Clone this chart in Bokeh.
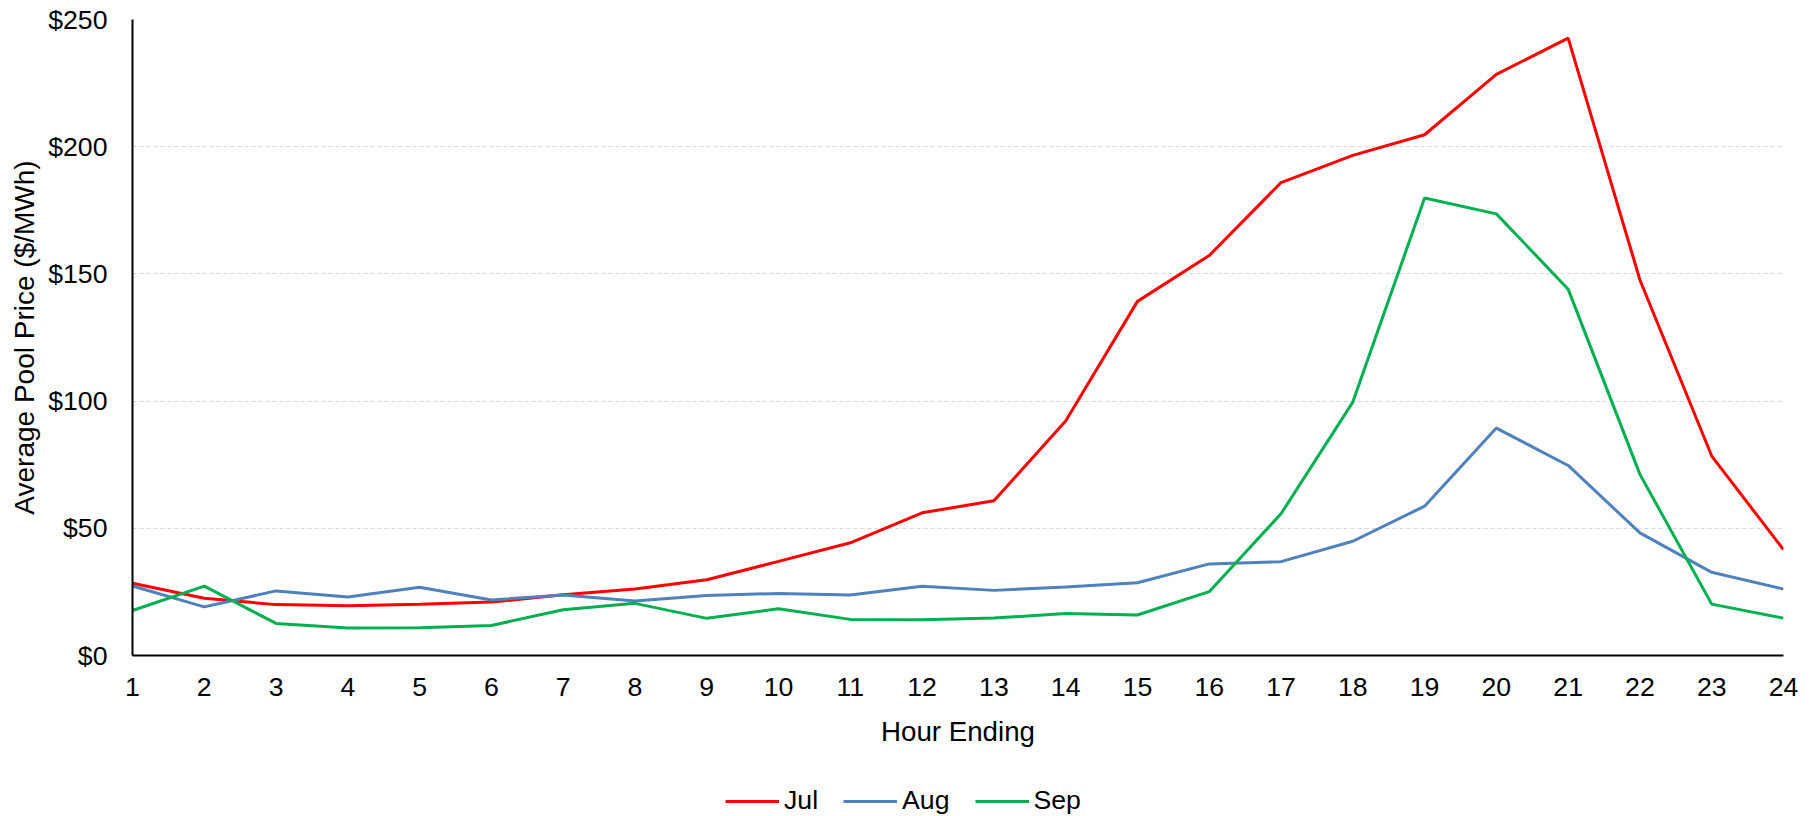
from bokeh.plotting import figure
from bokeh.layouts import column
from bokeh.models import (ColumnDataSource, FixedTicker, NumeralTickFormatter,
                          Legend, LegendItem, Range1d)
from bokeh.embed import file_html
from bokeh.resources import INLINE

hours = list(range(1, 25))
jul = [28.4, 22.5, 20.0, 19.6, 20.1, 21.0, 23.9, 26.1, 29.8, 37.0, 44.3, 56.1,
       60.8, 92.2, 139.2, 157.2, 185.9, 196.6, 204.7, 228.4, 242.7, 147.6, 78.4, 41.6]
aug = [27.3, 19.1, 25.4, 23.0, 26.8, 21.8, 23.8, 21.4, 23.6, 24.4, 23.8, 27.2,
       25.6, 26.9, 28.6, 36.0, 36.9, 44.9, 58.7, 89.4, 74.7, 48.2, 32.7, 26.1]
sep = [17.7, 27.3, 12.6, 10.8, 10.9, 11.8, 18.0, 20.5, 14.6, 18.4, 14.2, 14.1,
       14.7, 16.5, 15.9, 25.1, 55.7, 99.6, 179.8, 173.6, 144.0, 71.2, 20.2, 14.7]
series_names = ["Jul", "Aug", "Sep"]
series_cols = ["jul", "aug", "sep"]
series_colors = ["#FF0000", "#4F81BD", "#00B050"]
y_ticks = [0, 50, 100, 150, 200, 250]

FONT = "Liberation Sans"
FS = "26.67px"
W = 1799

src = ColumnDataSource(dict(h=hours, jul=jul, aug=aug, sep=sep))

p = figure(width=W, height=765, output_backend="svg", toolbar_location=None,
           x_range=Range1d(1, 24), y_range=Range1d(0, 250),
           min_border_left=132, min_border_right=16, min_border_top=19,
           min_border_bottom=110)
p.outline_line_color = None
p.border_fill_color = "white"

for col, color in zip(series_cols, series_colors):
    p.line("h", col, source=src, line_color=color, line_width=3)

p.xaxis.ticker = FixedTicker(ticks=hours)
p.yaxis.ticker = FixedTicker(ticks=y_ticks)
p.yaxis.formatter = NumeralTickFormatter(format="$0")
for ax in (p.xaxis[0], p.yaxis[0]):
    ax.major_tick_in = 0
    ax.major_tick_out = 0
    ax.minor_tick_in = 0
    ax.minor_tick_out = 0
    ax.axis_line_color = "black"
    ax.axis_line_width = 2
    ax.major_label_text_font = FONT
    ax.major_label_text_font_size = FS
    ax.major_label_text_color = "black"
    ax.axis_label_text_font = FONT
    ax.axis_label_text_font_style = "normal"
    ax.axis_label_text_color = "black"

p.xaxis.axis_label = "Hour Ending"
p.yaxis.axis_label = "Average Pool Price ($/MWh)"
p.xaxis.axis_label_text_font_size = "27.7px"
p.yaxis.axis_label_text_font_size = "28px"
p.yaxis.major_label_standoff = 25
p.yaxis.axis_label_standoff = 5
p.xaxis.major_label_standoff = 22
p.xaxis.axis_label_standoff = 17

p.xgrid.grid_line_color = None
p.ygrid.grid_line_color = "#D9D9D9"
p.ygrid.grid_line_dash = "4 3"
p.ygrid.grid_line_width = 1

# legend strip
lg = figure(width=W, height=49, output_backend="svg", toolbar_location=None,
            x_range=Range1d(1, 24), y_range=Range1d(1000, 1001),
            min_border_left=0, min_border_right=0, min_border_top=0,
            min_border_bottom=0)
lg.outline_line_color = None
lg.axis.visible = False
lg.grid.visible = False
lg_renderers = [lg.line("h", col, source=src, line_color=color, line_width=3)
                for col, color in zip(series_cols, series_colors)]
legend = Legend(items=[LegendItem(label=n, renderers=[r])
                       for n, r in zip(series_names, lg_renderers)],
                orientation="horizontal", location=(593, -2),
                glyph_width=54, glyph_height=28, label_height=28,
                label_standoff=5, spacing=25, padding=0, margin=0,
                border_line_color=None, background_fill_alpha=0,
                label_text_font=FONT, label_text_font_size=FS,
                label_text_color="black")
lg.add_layout(legend, "center")

layout = column(p, lg, spacing=0)
open("out.html", "w").write(file_html(layout, INLINE))
